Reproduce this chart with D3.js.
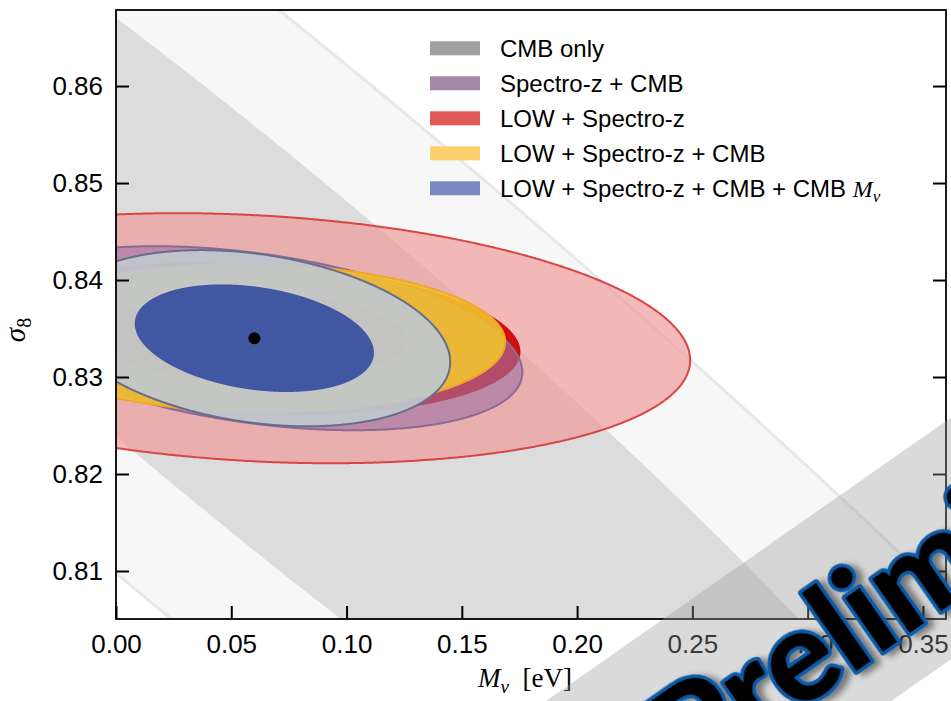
<!DOCTYPE html>
<html>
<head>
<meta charset="utf-8">
<script src="https://cdn.jsdelivr.net/npm/d3@7"></script>
<style>
  html, body { margin: 0; padding: 0; background: #fff; }
  svg { display: block; }
</style>
</head>
<body>
<svg id="chart" width="951" height="701"></svg>
<script>
// Forecast constraints in the (M_nu, sigma_8) plane, Fisher ellipses around the fiducial model
const fiducialMnu = 0.06;
const fiducialS8 = 0.834;

const datasets = ["CMB only", "Spectro-z + CMB", "LOW + Spectro-z", "LOW + Spectro-z + CMB", "LOW + Spectro-z + CMB + CMB"];
const sigmaMnu = [0.2302, 0.0468, 0.0761, 0.0438, 0.0342];
const sigmaS8  = [0.04627, 0.00382, 0.00519, 0.00308, 0.003657];
const corr     = [-0.950, -0.37, -0.176, -0.05, -0.27];

const xTicks = [0.00, 0.05, 0.10, 0.15, 0.20, 0.25, 0.30, 0.35];
const yTicks = [0.81, 0.82, 0.83, 0.84, 0.85, 0.86];
const xDomain = [0, 0.36];
const yDomain = [0.80505, 0.86784];

// delta chi^2 for 68% and 95% with two parameters
const level1 = 2.30;
const level2 = 6.17;

// drawing order (back to front)
const drawOrder = [0, 2, 1, 3, 4];

// styles
const fillOuter   = ["#f7f7f7", "rgba(160,115,165,0.62)", "rgba(239,150,150,0.67)", "rgba(240,195,50,0.9)", "rgba(191,199,205,0.93)"];
const strokeOuter = ["#e8e8e8", "#8c6a94", "#d94545", "#f2a628", "#686d8a"];
const fillInner   = ["#dcdcdc", "#8a5a8a", "#d20f0f", "#eea020", "#4157a1"];
const legendColors = ["#a0a0a0", "#a689a6", "#e05a5a", "#fdd06e", "#7a88c0"];

const plot = { left: 116, right: 946, top: 10, bottom: 619 };

const svg = d3.select("#chart");

const x = d3.scaleLinear().domain(xDomain).range([plot.left, plot.right]);
const y = d3.scaleLinear().domain(yDomain).range([plot.bottom, plot.top]);

const defs = svg.append("defs");
defs.append("clipPath").attr("id", "plotClip")
  .append("rect")
  .attr("x", plot.left).attr("y", plot.top)
  .attr("width", plot.right - plot.left).attr("height", plot.bottom - plot.top);

const shadow = defs.append("filter").attr("id", "wmShadow")
  .attr("x", "-20%").attr("y", "-20%").attr("width", "140%").attr("height", "140%");
shadow.append("feDropShadow")
  .attr("dx", 5).attr("dy", 5).attr("stdDeviation", 3)
  .attr("flood-color", "#000").attr("flood-opacity", 0.45);

// ellipse outline from sigma's and correlation
function ellipsePoints(i, level) {
  const k = Math.sqrt(level);
  const sx = sigmaMnu[i], sy = sigmaS8[i], r = corr[i];
  const c = Math.sqrt(1 - r * r);
  return d3.range(0, 1440).map(j => {
    const t = j / 1440 * 2 * Math.PI;
    const u = Math.cos(t), v = Math.sin(t);
    return [fiducialMnu + k * sx * u, fiducialS8 + k * sy * (r * u + c * v)];
  });
}

const ellipse = d3.line()
  .x(d => x(d[0]))
  .y(d => y(d[1]))
  .curve(d3.curveLinearClosed);

const contours = svg.append("g").attr("clip-path", "url(#plotClip)");

drawOrder.forEach(i => {
  contours.append("path")
    .attr("d", ellipse(ellipsePoints(i, level2)))
    .attr("fill", fillOuter[i])
    .attr("stroke", strokeOuter[i])
    .attr("stroke-width", i === 0 ? 3 : 2);
  contours.append("path")
    .attr("d", ellipse(ellipsePoints(i, level1)))
    .attr("fill", fillInner[i])
    .attr("stroke", "none");
});

// fiducial point
contours.append("circle")
  .attr("cx", x(fiducialMnu)).attr("cy", y(fiducialS8))
  .attr("r", 6).attr("fill", "#000");

// axes
const tickFont = "'Liberation Sans', Arial, Helvetica, sans-serif";

const xAxis = d3.axisBottom(x).tickValues(xTicks).tickFormat(d3.format(".2f"))
  .tickSizeInner(-13).tickSizeOuter(0).tickPadding(16);
const yAxis = d3.axisLeft(y).tickValues(yTicks).tickFormat(d3.format(".2f"))
  .tickSizeInner(-13).tickSizeOuter(0).tickPadding(13);
const yAxisR = d3.axisRight(y).tickValues(yTicks).tickFormat("")
  .tickSizeInner(-13).tickSizeOuter(0);

function styleAxis(g) {
  g.select(".domain").remove();
  g.selectAll(".tick line").attr("stroke", "#000").attr("stroke-width", 2);
  g.selectAll(".tick text")
    .attr("fill", "#000")
    .style("font-family", tickFont)
    .style("font-size", "26px");
}

svg.append("g").attr("transform", `translate(0,${plot.bottom})`).call(xAxis).call(styleAxis);
svg.append("g").attr("transform", `translate(${plot.left},0)`).call(yAxis).call(styleAxis);
svg.append("g").attr("transform", `translate(${plot.right},0)`).call(yAxisR).call(styleAxis);

svg.append("rect")
  .attr("x", plot.left).attr("y", plot.top)
  .attr("width", plot.right - plot.left).attr("height", plot.bottom - plot.top)
  .attr("fill", "none").attr("stroke", "#000").attr("stroke-width", 1.8);

// axis labels
const serif = "'Liberation Serif', 'DejaVu Serif', serif";

const xl = svg.append("text")
  .attr("x", 525).attr("y", 687)
  .attr("text-anchor", "middle")
  .style("font-family", serif).style("font-size", "27px").attr("fill", "#000");
xl.append("tspan").style("font-style", "italic").text("M");
xl.append("tspan").style("font-style", "italic").style("font-size", "19px").attr("dy", 6).text("ν");
xl.append("tspan").attr("dy", -6).text("\u2002[eV]");

const yl = svg.append("text")
  .attr("transform", "translate(25,330) rotate(-90)")
  .attr("text-anchor", "middle")
  .style("font-family", serif).style("font-size", "29px").attr("fill", "#000");
yl.append("tspan").style("font-style", "italic").text("σ");
yl.append("tspan").style("font-size", "20px").attr("dy", 6).text("8");

// legend
const legend = svg.append("g");
const rowY = d3.range(datasets.length).map(i => 48.3 + i * 35);
datasets.forEach((name, i) => {
  legend.append("rect")
    .attr("x", 430).attr("y", rowY[i] - 7)
    .attr("width", 50).attr("height", 14)
    .attr("fill", legendColors[i]);
  const t = legend.append("text")
    .attr("x", 500).attr("y", rowY[i] + 8.4)
    .style("font-family", tickFont).style("font-size", "24px").attr("fill", "#000")
    .text(name);
  if (i === datasets.length - 1) {
    t.append("tspan").text(" ");
    t.append("tspan").style("font-family", serif).style("font-style", "italic").text("M");
    t.append("tspan").style("font-family", serif).style("font-style", "italic")
      .style("font-size", "17px").attr("dy", 5).text("ν");
  }
});

// watermark band with text
const wm = svg.append("g").attr("transform", "translate(850,675) rotate(-35)");
wm.append("rect")
  .attr("x", -1400).attr("y", -153)
  .attr("width", 2800).attr("height", 198)
  .attr("fill", "rgb(155,155,155)").attr("fill-opacity", 0.37);
const wt = wm.append("text")
  .attr("x", 0).attr("y", 0)
  .style("font-family", "Lato, 'Open Sans', 'DejaVu Sans', sans-serif")
  .style("font-weight", 900)
  .style("font-size", "128px")
  .attr("fill", "#000")
  .attr("stroke", "#0c5aa6").attr("stroke-width", 7)
  .attr("stroke-linejoin", "round")
  .style("paint-order", "stroke")
  .attr("filter", "url(#wmShadow)")
  .text("Preliminary");
const pre = wt.node().getSubStringLength(0, 3);
wt.attr("x", -pre);
</script>
</body>
</html>
